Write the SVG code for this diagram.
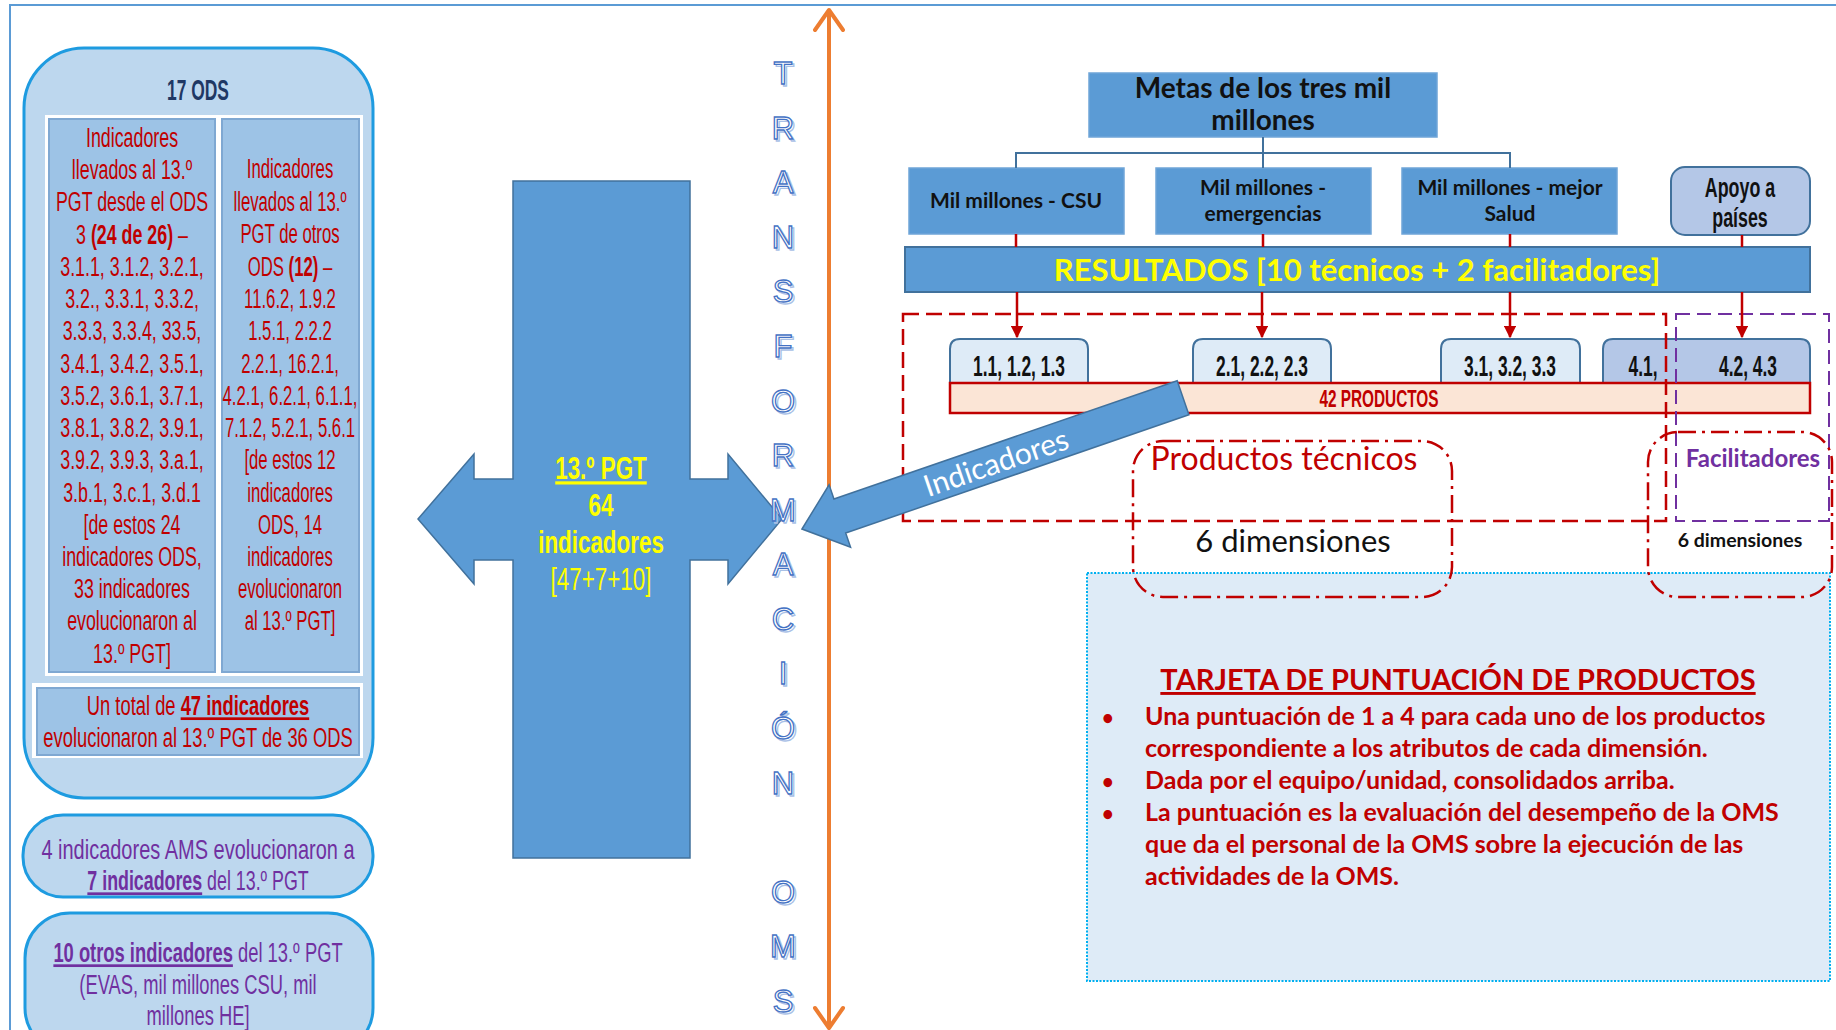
<svg xmlns="http://www.w3.org/2000/svg" width="1836" height="1030" viewBox="0 0 1836 1030">
<defs>
<style>
.cd{font-family:"Liberation Sans",Arial,sans-serif;text-anchor:middle}
.cal{font-family:Lato,"Liberation Sans",sans-serif}
.red{fill:#c00000}
.pur{fill:#7030a0}
.b{font-weight:bold}
.u{text-decoration:underline}
.bluebox{fill:#5b9bd5;stroke:#6fa5d8;stroke-width:1.5}
.rbox{fill:#bdd7ee;stroke:#1e9be0;stroke-width:3}
.col{fill:#9dc3e6;stroke:#7fa8d2;stroke-width:2}
.pill{fill:#deebf7;stroke:#41719c;stroke-width:2}
.tree{fill:none;stroke:#41719c;stroke-width:2}
.rl{fill:none;stroke:#c00000;stroke-width:2.5}
.letter{font-family:"Liberation Sans",Arial,sans-serif;font-size:31px;text-anchor:middle;fill:#ffffff;stroke:#4472c4;stroke-width:1.3}
.shadow{font-family:"Liberation Sans",Arial,sans-serif;font-size:31px;text-anchor:middle;fill:none;stroke:#a9c0e6;stroke-width:1.3}
</style>
<marker id="ah" viewBox="0 0 10 10" refX="9" refY="5" markerWidth="5" markerHeight="5" orient="auto" markerUnits="strokeWidth">
<path d="M0,0 L10,5 L0,10 z" fill="#c00000"/>
</marker>
</defs>

<rect width="1836" height="1030" fill="#ffffff"/>
<!-- frame -->
<path d="M10,1030 L10,5 L1836,5" fill="none" stroke="#5b9bd5" stroke-width="2"/>

<!-- left: 17 ODS -->
<g id="ods17">
<rect class="rbox" x="24" y="48" width="349" height="750" rx="60"/>
<g transform="translate(198 0) scale(0.58 1)"><text class="cd b" y="100" font-size="30" fill="#1f3864">17 ODS</text></g>
<rect x="45" y="115" width="318" height="561" fill="#ffffff"/>
<rect class="col" x="49" y="119" width="166" height="553"/>
<rect class="col" x="222" y="119" width="137" height="553"/>
<g transform="translate(132 0) scale(0.66 1)" class="cd red" font-size="27">
<text y="147">Indicadores</text>
<text y="179">llevados al 13.º</text>
<text y="211">PGT desde el ODS</text>
<text y="244">3 <tspan class="b">(24 de 26)</tspan> –</text>
<text y="276">3.1.1, 3.1.2, 3.2.1,</text>
<text y="308">3.2., 3.3.1, 3.3.2,</text>
<text y="340">3.3.3, 3.3.4, 33.5,</text>
<text y="373">3.4.1, 3.4.2, 3.5.1,</text>
<text y="405">3.5.2, 3.6.1, 3.7.1,</text>
<text y="437">3.8.1, 3.8.2, 3.9.1,</text>
<text y="469">3.9.2, 3.9.3, 3.a.1,</text>
<text y="502">3.b.1, 3.c.1, 3.d.1</text>
<text y="534">[de estos 24</text>
<text y="566">indicadores ODS,</text>
<text y="598">33 indicadores</text>
<text y="630">evolucionaron al</text>
<text y="663">13.º PGT]</text>
</g>
<g transform="translate(290 0) scale(0.62 1)" class="cd red" font-size="27">
<text y="178">Indicadores</text>
<text y="211">llevados al 13.º</text>
<text y="243">PGT de otros</text>
<text y="276">ODS <tspan class="b">(12)</tspan> –</text>
<text y="308">11.6.2, 1.9.2</text>
<text y="340">1.5.1, 2.2.2</text>
<text y="373">2.2.1, 16.2.1,</text>
<text y="405">4.2.1, 6.2.1, 6.1.1,</text>
<text y="437">7.1.2, 5.2.1, 5.6.1</text>
<text y="469">[de estos 12</text>
<text y="502">indicadores</text>
<text y="534">ODS, 14</text>
<text y="566">indicadores</text>
<text y="598">evolucionaron</text>
<text y="630">al 13.º PGT]</text>
</g>
<rect x="32" y="683" width="331" height="75" fill="#ffffff"/>
<rect class="col" x="37" y="688" width="322" height="67"/>
<g transform="translate(198 0) scale(0.68 1)" class="cd red" font-size="27">
<text y="715">Un total de <tspan class="b u">47 indicadores</tspan></text>
<text y="747">evolucionaron al 13.º PGT de 36 ODS</text>
</g>
</g>

<g id="ams">
<rect class="rbox" x="23" y="815" width="350" height="82" rx="40"/>
<g transform="translate(198 0) scale(0.74 1)" class="cd pur" font-size="27">
<text y="859">4 indicadores AMS evolucionaron a</text>
</g>
<g transform="translate(198 0) scale(0.66 1)" class="cd pur" font-size="27">
<text y="890"><tspan class="b u">7 indicadores</tspan> del 13.º PGT</text>
</g>
</g>

<g id="otros">
<rect class="rbox" x="25" y="913" width="348" height="140" rx="45"/>
<g transform="translate(198 0) scale(0.68 1)" class="cd pur" font-size="27">
<text y="962"><tspan class="b u">10 otros indicadores</tspan> del  13.º PGT</text>
<text y="994">(EVAS, mil millones CSU, mil</text>
<text y="1025">millones HE]</text>
</g>
</g>

<!-- central cross -->
<g id="pgt">
<polygon points="418,519 474,454 474,479 513,479 513,181 690,181 690,479 728,479 728,454 782,519 728,584 728,560 690,560 690,858 513,858 513,560 474,560 474,584" fill="#5b9bd5" stroke="#41719c" stroke-width="1.5"/>
<g transform="translate(601 0) scale(0.7 1)" class="cd b" font-size="32" fill="#ffff00">
<text y="479" class="u">13.º PGT</text>
<text y="516">64</text>
<text y="553">indicadores</text>
<text y="590" font-weight="normal">[47+7+10]</text>
</g>
</g>

<!-- TRANSFORMACIÓN OMS -->
<g id="transformacion">
<g transform="translate(2 2)">
<text class="shadow" x="783" y="84">T</text><text class="shadow" x="783" y="139">R</text><text class="shadow" x="783" y="193">A</text><text class="shadow" x="783" y="248">N</text><text class="shadow" x="783" y="302">S</text><text class="shadow" x="783" y="357">F</text><text class="shadow" x="783" y="412">O</text><text class="shadow" x="783" y="466">R</text><text class="shadow" x="783" y="521">M</text><text class="shadow" x="783" y="575">A</text><text class="shadow" x="783" y="630">C</text><text class="shadow" x="783" y="684">I</text><text class="shadow" x="783" y="739">Ó</text><text class="shadow" x="783" y="794">N</text><text class="shadow" x="783" y="903">O</text><text class="shadow" x="783" y="957">M</text><text class="shadow" x="783" y="1012">S</text>
</g>
<text class="letter" x="783" y="84">T</text><text class="letter" x="783" y="139">R</text><text class="letter" x="783" y="193">A</text><text class="letter" x="783" y="248">N</text><text class="letter" x="783" y="302">S</text><text class="letter" x="783" y="357">F</text><text class="letter" x="783" y="412">O</text><text class="letter" x="783" y="466">R</text><text class="letter" x="783" y="521">M</text><text class="letter" x="783" y="575">A</text><text class="letter" x="783" y="630">C</text><text class="letter" x="783" y="684">I</text><text class="letter" x="783" y="739">Ó</text><text class="letter" x="783" y="794">N</text><text class="letter" x="783" y="903">O</text><text class="letter" x="783" y="957">M</text><text class="letter" x="783" y="1012">S</text>
</g>

<!-- right top hierarchy -->
<g id="metas">
<rect class="bluebox" x="1089" y="73" width="348" height="64"/>
<text class="cal b" x="1263" y="98" font-size="28" text-anchor="middle" fill="#111">Metas de los tres mil</text>
<text class="cal b" x="1263" y="130" font-size="28" text-anchor="middle" fill="#111">millones</text>
</g>
<g id="csu">
<rect class="bluebox" x="909" y="168" width="215" height="66"/>
<text class="cal b" x="1016" y="208" font-size="21" text-anchor="middle" fill="#111">Mil millones - CSU</text>
</g>
<g id="emerg">
<rect class="bluebox" x="1156" y="168" width="215" height="66"/>
<text class="cal b" x="1263" y="195" font-size="21" text-anchor="middle" fill="#111">Mil millones -</text>
<text class="cal b" x="1263" y="221" font-size="21" text-anchor="middle" fill="#111">emergencias</text>
</g>
<g id="salud">
<rect class="bluebox" x="1402" y="168" width="215" height="66"/>
<text class="cal b" x="1510" y="195" font-size="21" text-anchor="middle" fill="#111">Mil millones - mejor</text>
<text class="cal b" x="1510" y="221" font-size="21" text-anchor="middle" fill="#111">Salud</text>
</g>
<g id="apoyo">
<rect x="1671" y="167" width="139" height="68" rx="14" fill="#b4c7e7" stroke="#41719c" stroke-width="2"/>
<g transform="translate(1740 0) scale(0.66 1)" class="cd b" font-size="27" fill="#111">
<text y="197">Apoyo a</text>
<text y="227">países</text>
</g>
</g>
<g id="resultados">
<rect x="905" y="247" width="905" height="45" fill="#5b9bd5" stroke="#41719c" stroke-width="2"/>
<text class="cal b" x="1357" y="281" font-size="31" text-anchor="middle" fill="#ffff00">RESULTADOS [10 técnicos + 2 facilitadores]</text>
</g>

<!-- scorecard box -->
<g id="tarjeta">
<rect x="1087" y="573" width="743" height="408" fill="#deebf7" stroke="#00b0f0" stroke-width="2" stroke-dasharray="2 1.5"/>
<text class="cal b red u" x="1458" y="690" font-size="29" text-anchor="middle">TARJETA DE PUNTUACIÓN DE PRODUCTOS</text>
<g class="cal b red" font-size="25">
<text x="1102" y="725" font-size="20">•</text>
<text x="1102" y="789" font-size="20">•</text>
<text x="1102" y="821" font-size="20">•</text>
<text x="1145" y="725">Una puntuación de 1 a 4 para cada uno de los productos</text>
<text x="1145" y="757">correspondiente a los atributos de cada dimensión.</text>
<text x="1145" y="789">Dada por el equipo/unidad, consolidados arriba.</text>
<text x="1145" y="821">La puntuación es la evaluación del desempeño de la OMS</text>
<text x="1145" y="853">que da el personal de la OMS sobre la ejecución de las</text>
<text x="1145" y="885">actividades de la OMS.</text>
</g>
</g>

<!-- products pills -->
<g id="p1"><path class="pill" d="M950,383 L950,349 Q950,339 960,339 L1078,339 Q1088,339 1088,349 L1088,383"/>
<g transform="translate(1019 0) scale(0.58 1)" class="cd b" font-size="30" fill="#111"><text y="376">1.1, 1.2, 1.3</text></g></g>
<g id="p2"><path class="pill" d="M1193,383 L1193,349 Q1193,339 1203,339 L1321,339 Q1331,339 1331,349 L1331,383"/>
<g transform="translate(1262 0) scale(0.58 1)" class="cd b" font-size="30" fill="#111"><text y="376">2.1, 2.2, 2.3</text></g></g>
<g id="p3"><path class="pill" d="M1441,383 L1441,349 Q1441,339 1451,339 L1570,339 Q1580,339 1580,349 L1580,383"/>
<g transform="translate(1510 0) scale(0.58 1)" class="cd b" font-size="30" fill="#111"><text y="376">3.1, 3.2, 3.3</text></g></g>
<g id="p4"><path d="M1603,383 L1603,349 Q1603,339 1613,339 L1800,339 Q1810,339 1810,349 L1810,383" fill="#b4c7e7" stroke="#41719c" stroke-width="2"/>
<g transform="translate(1643 0) scale(0.58 1)" class="cd b" font-size="30" fill="#111"><text y="376">4.1,</text></g>
<g transform="translate(1748 0) scale(0.58 1)" class="cd b" font-size="30" fill="#111"><text y="376">4.2, 4.3</text></g></g>
<g id="productos42">
<rect x="950" y="383" width="860" height="30" fill="#fbe5d6" stroke="#c00000" stroke-width="2.5"/>
<g transform="translate(1379 0) scale(0.64 1)" class="cd b red" font-size="24"><text y="407">42 PRODUCTOS</text></g>
</g>

<!-- grouping boxes -->
<g id="tecnicos">
<rect x="903" y="314" width="763" height="207" fill="none" stroke="#c00000" stroke-width="2.5" stroke-dasharray="16 7"/>
<rect x="1133" y="441" width="319" height="156" rx="30" fill="none" stroke="#c00000" stroke-width="2.5" stroke-dasharray="18 6 3 6"/>
<text class="cal red" x="1284" y="470" font-size="32" text-anchor="middle">Productos técnicos</text>
<text class="cal" x="1293" y="552" font-size="31" text-anchor="middle" fill="#111">6 dimensiones</text>
</g>
<g id="facilitadores">
<rect x="1676" y="314" width="153" height="207" fill="none" stroke="#7030a0" stroke-width="2" stroke-dasharray="14 7"/>
<rect x="1648" y="432" width="184" height="165" rx="30" fill="none" stroke="#c00000" stroke-width="2.5" stroke-dasharray="18 6 3 6"/>
<text class="cal b pur" x="1753" y="467" font-size="24" text-anchor="middle">Facilitadores</text>
<text class="cal b" x="1740" y="547" font-size="19.5" text-anchor="middle" fill="#111">6 dimensiones</text>
</g>

<!-- connectors -->
<g id="connectors">
<path class="tree" d="M1263,137 L1263,168 M1016,168 L1016,153 L1510,153 L1510,168"/>
<path class="rl" d="M1016,234 L1016,247 M1263,234 L1263,247 M1510,234 L1510,247 M1742,235 L1742,247"/>
<path class="rl" d="M1017,292 L1017,337" marker-end="url(#ah)"/>
<path class="rl" d="M1262,292 L1262,337" marker-end="url(#ah)"/>
<path class="rl" d="M1510,292 L1510,337" marker-end="url(#ah)"/>
<path class="rl" d="M1742,292 L1742,337" marker-end="url(#ah)"/>
<path d="M829,12 L829,1026 M815,30 L829,10 L843,30 M815,1008 L829,1028 L843,1008" fill="none" stroke="#ed7d31" stroke-width="4" stroke-linecap="round" stroke-linejoin="round"/>
<g id="indicadores-arrow" transform="translate(802 529) rotate(-19)">
<polygon points="0,0 40,-33 40,-18 403,-18 403,18 40,18 40,33" fill="#5b9bd5" stroke="#41719c" stroke-width="1.5"/>
<text class="cal" x="205" y="11" font-size="30" text-anchor="middle" fill="#ffffff">Indicadores</text>
</g>
</g>
</svg>
